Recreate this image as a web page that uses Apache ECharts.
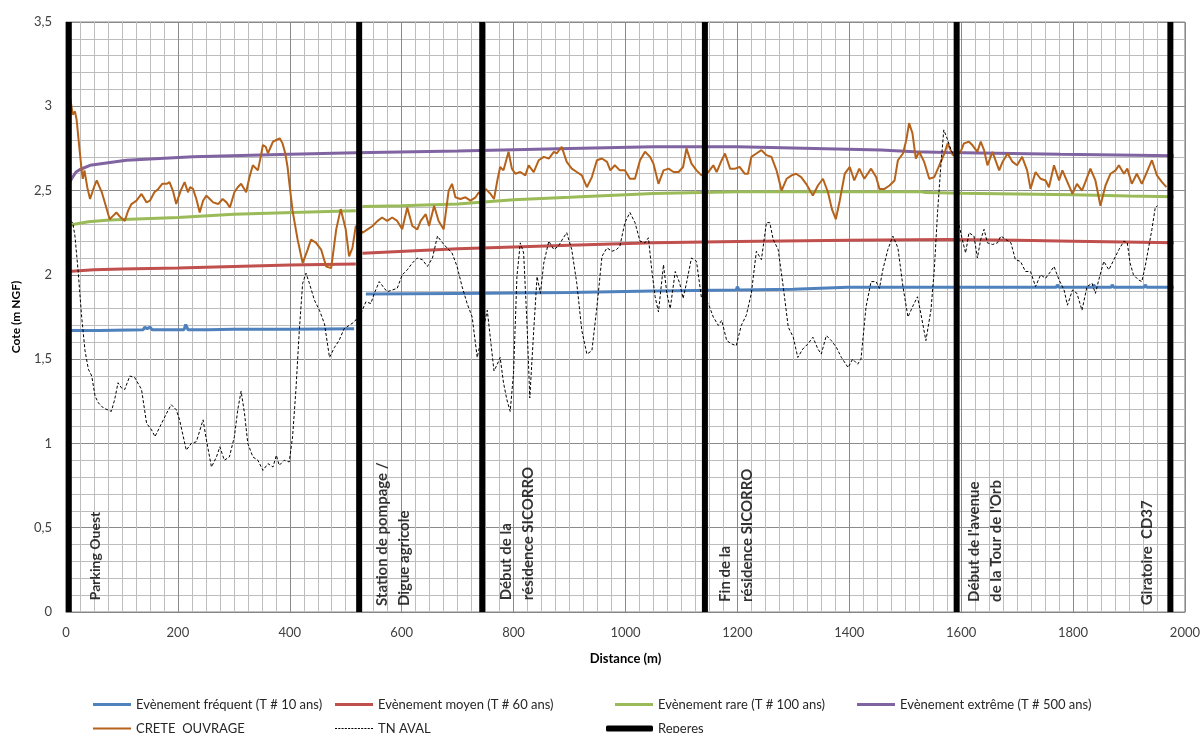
<!DOCTYPE html>
<html>
<head>
<meta charset="utf-8">
<script src="https://cdn.jsdelivr.net/npm/echarts@6/dist/echarts.min.js"></script>
<style>
html,body{margin:0;padding:0;background:#fff;}
#chart{width:1203px;height:733px;}
</style>
</head>
<body>
<div id="chart"></div>
<script>
// ---------- DATA ----------
var xTicks = [0, 200, 400, 600, 800, 1000, 1200, 1400, 1600, 1800, 2000];
var yTicks = [0, 0.5, 1, 1.5, 2, 2.5, 3, 3.5];

var seriesNames = [
  'Evènement fréquent (T # 10 ans)',
  'Evènement moyen (T # 60 ans)',
  'Evènement rare (T # 100 ans)',
  'Evènement extrême (T # 500 ans)',
  'CRETE  OUVRAGE',
  'TN AVAL',
  'Reperes'
];

// [distance (m), cote (m NGF)] ; null breaks the line at the dike
var frequent = [[5,1.67],[60,1.67],[138,1.675],[141,1.69],[145,1.68],[150,1.69],[154,1.675],[211,1.675],[214,1.705],[218,1.675],[254,1.675],[300,1.678],[400,1.678],[515,1.68],[520,null],
  [536,1.886],[700,1.89],[900,1.895],[1050,1.904],[1198,1.91],[1200,1.93],[1203,1.91],[1300,1.915],[1397,1.926],[1600,1.926],[1770,1.926],[1772,1.94],[1775,1.926],[1835,1.926],[1837,1.94],[1840,1.926],[1868,1.926],[1870,1.94],[1873,1.926],[1927,1.926],[1929,1.94],[1932,1.926],[1980,1.926]];
var moyen = [[5,2.02],[10,2.022],[50,2.03],[100,2.035],[200,2.04],[300,2.05],[400,2.058],[518,2.064],[524,null],
  [530,2.128],[700,2.155],[900,2.175],[1050,2.19],[1200,2.198],[1400,2.205],[1576,2.21],[1700,2.205],[1800,2.2],[1980,2.19]];
var rare = [[5,2.29],[15,2.30],[40,2.315],[78,2.325],[200,2.34],[300,2.36],[420,2.372],[518,2.38],[524,null],
  [530,2.405],[600,2.41],[700,2.42],[800,2.445],[900,2.46],[1050,2.483],[1200,2.493],[1400,2.493],[1530,2.493],[1536,2.488],[1600,2.484],[1700,2.48],[1800,2.475],[1900,2.468],[1980,2.463]];
var extreme = [[5,2.54],[10,2.57],[18,2.61],[25,2.625],[43,2.65],[108,2.68],[227,2.70],[400,2.715],[518,2.725],[700,2.735],[900,2.75],[1050,2.76],[1200,2.76],[1338,2.75],[1457,2.74],[1516,2.73],[1576,2.726],[1778,2.716],[1980,2.707]];
var crete = [[8,3.04],[12,2.95],[16,2.97],[19,2.92],[24,2.75],[28,2.62],[30,2.57],[33,2.62],[38,2.52],[43,2.45],[50,2.52],[55,2.56],[60,2.52],[64,2.49],[72,2.40],[78,2.33],[84,2.35],[90,2.37],[98,2.34],[105,2.32],[111,2.38],[117,2.42],[126,2.44],[135,2.48],[144,2.43],[150,2.44],[158,2.49],[165,2.51],[172,2.54],[180,2.54],[185,2.55],[191,2.50],[197,2.42],[205,2.50],[212,2.55],[218,2.49],[222,2.52],[227,2.51],[233,2.45],[239,2.37],[245,2.44],[251,2.47],[257,2.45],[263,2.43],[272,2.42],[280,2.45],[287,2.43],[293,2.40],[301,2.49],[307,2.52],[313,2.54],[322,2.49],[328,2.58],[334,2.65],[343,2.62],[348,2.70],[352,2.77],[357,2.76],[361,2.72],[366,2.76],[370,2.79],[376,2.80],[382,2.81],[387,2.78],[392,2.72],[396,2.64],[399,2.55],[405,2.38],[414,2.21],[423,2.07],[432,2.15],[438,2.21],[447,2.19],[456,2.15],[465,2.05],[474,2.04],[483,2.27],[491,2.39],[500,2.27],[506,2.11],[512,2.16],[518,2.29],[524,2.27],[530,2.25],[539,2.27],[548,2.29],[557,2.32],[565,2.34],[574,2.32],[583,2.34],[592,2.32],[601,2.27],[610,2.40],[619,2.29],[628,2.27],[634,2.32],[643,2.36],[649,2.29],[658,2.41],[666,2.32],[675,2.27],[684,2.50],[690,2.54],[696,2.46],[705,2.45],[714,2.46],[723,2.44],[732,2.46],[738,2.49],[744,2.47],[750,2.51],[759,2.48],[765,2.45],[771,2.56],[776,2.64],[782,2.62],[791,2.73],[797,2.63],[803,2.60],[812,2.61],[821,2.59],[827,2.65],[836,2.61],[845,2.68],[854,2.70],[863,2.69],[872,2.73],[877,2.72],[886,2.76],[895,2.67],[904,2.63],[913,2.61],[922,2.59],[931,2.52],[940,2.58],[949,2.68],[958,2.69],[967,2.67],[973,2.62],[981,2.65],[990,2.62],[999,2.62],[1008,2.57],[1017,2.57],[1026,2.68],[1035,2.73],[1044,2.70],[1050,2.66],[1059,2.54],[1068,2.62],[1077,2.63],[1086,2.61],[1095,2.61],[1103,2.64],[1109,2.75],[1118,2.66],[1127,2.62],[1136,2.59],[1142,2.60],[1148,2.61],[1157,2.65],[1163,2.61],[1172,2.68],[1178,2.72],[1187,2.63],[1196,2.63],[1204,2.64],[1213,2.60],[1219,2.60],[1225,2.70],[1234,2.72],[1243,2.74],[1252,2.71],[1261,2.70],[1270,2.62],[1279,2.50],[1288,2.57],[1297,2.59],[1305,2.60],[1314,2.58],[1323,2.54],[1335,2.47],[1344,2.53],[1353,2.57],[1362,2.49],[1369,2.39],[1376,2.33],[1383,2.44],[1392,2.60],[1401,2.64],[1409,2.56],[1418,2.63],[1427,2.57],[1439,2.63],[1448,2.58],[1454,2.51],[1463,2.51],[1472,2.53],[1481,2.56],[1487,2.68],[1496,2.72],[1502,2.80],[1507,2.90],[1513,2.84],[1519,2.69],[1525,2.73],[1534,2.67],[1543,2.57],[1552,2.58],[1561,2.65],[1570,2.72],[1576,2.78],[1585,2.71],[1592,2.72],[1599,2.73],[1605,2.78],[1614,2.79],[1620,2.77],[1629,2.73],[1635,2.79],[1641,2.74],[1647,2.65],[1656,2.73],[1668,2.62],[1674,2.67],[1683,2.72],[1692,2.67],[1700,2.65],[1709,2.70],[1718,2.62],[1724,2.51],[1733,2.61],[1742,2.57],[1751,2.56],[1757,2.52],[1766,2.65],[1775,2.56],[1781,2.62],[1790,2.55],[1799,2.48],[1807,2.54],[1816,2.50],[1822,2.55],[1831,2.63],[1840,2.56],[1849,2.41],[1858,2.53],[1867,2.60],[1876,2.62],[1882,2.65],[1891,2.60],[1897,2.63],[1905,2.54],[1914,2.60],[1923,2.54],[1932,2.61],[1941,2.68],[1950,2.59],[1959,2.55],[1967,2.52]];
var tnAval = [[8,2.32],[12,2.31],[16,2.23],[22,2.01],[28,1.75],[34,1.55],[40,1.44],[46,1.40],[52,1.28],[58,1.24],[67,1.21],[81,1.19],[87,1.26],[93,1.36],[99,1.33],[105,1.32],[114,1.40],[123,1.39],[135,1.32],[144,1.12],[153,1.08],[159,1.04],[168,1.10],[180,1.18],[188,1.23],[197,1.20],[203,1.14],[215,0.96],[224,1.00],[233,1.01],[245,1.14],[251,1.02],[260,0.86],[269,0.92],[275,0.98],[283,0.90],[292,0.92],[301,1.04],[307,1.20],[313,1.31],[319,1.18],[325,1.00],[334,0.92],[343,0.90],[352,0.84],[361,0.88],[370,0.86],[376,0.93],[381,0.87],[390,0.90],[399,0.89],[405,1.04],[411,1.32],[417,1.67],[423,1.95],[429,2.01],[435,1.95],[444,1.85],[453,1.79],[462,1.71],[471,1.51],[480,1.57],[488,1.61],[497,1.68],[506,1.70],[515,1.72],[527,1.77],[536,1.84],[545,1.83],[551,1.89],[560,1.96],[569,1.92],[574,1.90],[583,1.91],[592,1.92],[601,2.00],[610,2.03],[619,2.07],[628,2.10],[637,2.09],[646,2.05],[655,2.10],[664,2.23],[673,2.19],[681,2.16],[690,2.13],[699,2.05],[708,1.93],[717,1.83],[726,1.75],[735,1.51],[753,1.79],[759,1.61],[765,1.43],[771,1.47],[776,1.51],[782,1.36],[788,1.26],[794,1.19],[800,1.42],[806,1.99],[812,2.19],[818,2.13],[824,1.71],[829,1.27],[836,1.67],[842,1.99],[848,1.89],[854,2.07],[863,2.20],[872,2.15],[880,2.17],[889,2.22],[895,2.25],[904,2.15],[913,1.95],[922,1.67],[931,1.53],[940,1.55],[949,1.81],[958,2.11],[967,2.16],[976,2.14],[984,2.15],[990,2.17],[999,2.31],[1008,2.37],[1017,2.31],[1026,2.20],[1035,2.19],[1041,2.22],[1047,2.03],[1053,1.87],[1059,1.78],[1068,2.06],[1074,1.89],[1080,1.80],[1089,2.02],[1097,1.95],[1103,1.86],[1109,1.95],[1118,2.10],[1127,2.08],[1136,1.86],[1148,1.83],[1157,1.75],[1166,1.70],[1172,1.73],[1181,1.61],[1190,1.59],[1198,1.58],[1207,1.70],[1216,1.76],[1225,1.89],[1234,2.14],[1243,2.09],[1252,2.31],[1258,2.31],[1264,2.21],[1273,2.15],[1282,1.93],[1291,1.69],[1300,1.63],[1308,1.51],[1317,1.56],[1326,1.59],[1335,1.63],[1344,1.56],[1350,1.53],[1359,1.64],[1368,1.61],[1377,1.57],[1386,1.51],[1398,1.45],[1406,1.50],[1415,1.47],[1421,1.50],[1430,1.81],[1439,1.96],[1448,1.96],[1454,1.92],[1460,2.03],[1469,2.15],[1478,2.23],[1487,2.16],[1496,1.93],[1505,1.75],[1513,1.81],[1522,1.87],[1528,1.77],[1537,1.61],[1546,1.79],[1552,2.03],[1558,2.38],[1564,2.66],[1569,2.86],[1576,2.80],[1582,2.74],[1588,2.70],[1596,2.30],[1602,2.21],[1608,2.13],[1614,2.25],[1623,2.23],[1629,2.10],[1635,2.21],[1641,2.27],[1647,2.19],[1656,2.18],[1665,2.19],[1671,2.23],[1680,2.21],[1689,2.19],[1697,2.09],[1706,2.08],[1715,2.02],[1724,2.02],[1733,1.93],[1742,2.00],[1751,1.98],[1760,2.02],[1766,2.05],[1775,1.97],[1784,1.91],[1790,1.82],[1799,1.91],[1807,1.89],[1816,1.79],[1825,1.93],[1834,1.95],[1840,1.89],[1846,1.97],[1855,2.08],[1864,2.03],[1873,2.09],[1882,2.15],[1891,2.20],[1897,2.19],[1902,2.07],[1908,2.00],[1917,1.97],[1923,1.96],[1929,2.05],[1935,2.16],[1941,2.27],[1947,2.40],[1951,2.41]];

var reperesX = [5, 524, 744, 1142, 1592, 1974];
var reperesY = [0, 3.5];

// Annotation labels (distance, cote at label start, text)
var annotations = [
  {x: 52,   y: 0.07, text: 'Parking Ouest', size: 14},
  {x: 585,  y: 0.035, text: 'Station de pompage /\nDigue agricole', size: 15},
  {x: 807,  y: 0.07, text: 'Début de la\nrésidence SICORRO', size: 15},
  {x: 1197, y: 0.06, text: 'Fin de la\nrésidence SICORRO', size: 15},
  {x: 1643, y: 0.06, text: "Début de l'avenue\nde la Tour de l'Orb", size: 15},
  {x: 1932, y: 0.04, text: 'Giratoire  CD37', size: 15}
];

// ---------- CHART ----------
var FONT = 'Lato, "Liberation Sans", sans-serif';
var colors = ['#4F81BD', '#C0504D', '#9BBB59', '#8064A2', '#B5621B', '#000000', '#000000'];

var reperesData = [];
reperesX.forEach(function (x, i) {
  if (i > 0) reperesData.push([x, null]);
  reperesData.push([x, reperesY[0]]);
  reperesData.push([x, reperesY[1]]);
});

function lineSeries(name, data, color, width, extra) {
  var s = {
    name: name, type: 'line', data: data, symbol: 'none', showSymbol: false,
    connectNulls: false, animation: false, silent: true,
    lineStyle: {color: color, width: width},
    itemStyle: {color: color}
  };
  if (extra) for (var k in extra) s[k] = extra[k];
  return s;
}

// dashed legend icon path for TN AVAL
var dashPath = 'path://';
for (var dx = 0; dx < 38; dx += 3.2) {
  dashPath += 'M' + dx.toFixed(1) + ',0h2v1h-2z';
}

function mkLegend(left, top, name, icon, w, h, color) {
  return {
    left: left, top: top, orient: 'horizontal',
    itemWidth: w, itemHeight: h, symbolKeepAspect: false,
    selectedMode: false,
    data: [{name: name, icon: icon, itemStyle: {color: color}}],
    textStyle: {fontFamily: FONT, fontSize: 13, color: '#262626'}
  };
}

var chart = echarts.init(document.getElementById('chart'), null, {renderer: 'canvas'});
var option = {
  backgroundColor: '#ffffff',
  animation: false,
  grid: {left: 66, right: 15, top: 22, bottom: 121, show: true, borderColor: '#868686', borderWidth: 1, backgroundColor: 'transparent'},
  legend: [
    mkLegend(88, 693, seriesNames[0], 'rect', 38, 3, colors[0]),
    mkLegend(330, 693, seriesNames[1], 'rect', 38, 3, colors[1]),
    mkLegend(610, 693, seriesNames[2], 'rect', 38, 3, colors[2]),
    mkLegend(852, 693, seriesNames[3], 'rect', 38, 3, colors[3]),
    mkLegend(88, 717, seriesNames[4], 'rect', 38, 2, colors[4]),
    mkLegend(330, 717, seriesNames[5], dashPath, 38, 1, colors[5]),
    mkLegend(601, 717, seriesNames[6], 'roundRect', 47, 6, colors[6])
  ],
  xAxis: {
    type: 'value', min: xTicks[0], max: xTicks[xTicks.length - 1], interval: 200,
    name: 'Distance (m)', nameLocation: 'middle', nameGap: 40,
    nameTextStyle: {fontFamily: FONT, fontSize: 13, fontWeight: 'bold', color: '#000'},
    axisLine: {show: true, lineStyle: {color: '#868686', width: 1}},
    axisTick: {show: false},
    axisLabel: {fontFamily: FONT, fontSize: 13, color: '#404040', margin: 14,
      formatter: function (v) { return String(v); }},
    splitLine: {show: true, lineStyle: {color: '#8a8a8a', width: 1}},
    minorTick: {show: false, splitNumber: 8},
    minorSplitLine: {show: true, lineStyle: {color: '#bdbdbd', width: 1}}
  },
  yAxis: {
    type: 'value', min: yTicks[0], max: yTicks[yTicks.length - 1], interval: 0.5,
    name: 'Cote (m NGF)', nameLocation: 'middle', nameGap: 44, nameRotate: 90,
    nameTextStyle: {fontFamily: FONT, fontSize: 12, fontWeight: 'bold', color: '#000'},
    axisLine: {show: true, lineStyle: {color: '#868686', width: 1}},
    axisTick: {show: false},
    axisLabel: {fontFamily: FONT, fontSize: 13, color: '#404040', margin: 14,
      formatter: function (v) { return String(v).replace('.', ','); }},
    splitLine: {show: true, lineStyle: {color: '#8a8a8a', width: 1}},
    minorTick: {show: false, splitNumber: 5},
    minorSplitLine: {show: true, lineStyle: {color: '#bdbdbd', width: 1}}
  },
  series: [
    lineSeries(seriesNames[0], frequent, colors[0], 3, {z: 3}),
    lineSeries(seriesNames[1], moyen, colors[1], 3, {z: 3}),
    lineSeries(seriesNames[2], rare, colors[2], 3, {z: 3}),
    lineSeries(seriesNames[3], extreme, colors[3], 3, {z: 3}),
    lineSeries(seriesNames[4], crete, colors[4], 2, {z: 4}),
    lineSeries(seriesNames[5], tnAval, colors[5], 1, {z: 4, lineStyle: {color: '#000', width: 1, type: [3, 2]}}),
    lineSeries(seriesNames[6], reperesData, colors[6], 6, {z: 5}),
    {
      type: 'scatter', silent: true, animation: false, z: 6,
      symbolSize: 0, itemStyle: {color: 'rgba(0,0,0,0)'},
      data: annotations.map(function (a) {
        return {
          value: [a.x, a.y],
          label: {
            show: true, formatter: a.text, rotate: 90, position: 'inside',
            align: 'left', verticalAlign: 'middle',
            fontFamily: FONT, fontSize: a.size, fontWeight: 'bold',
            lineHeight: 22, color: '#000'
          }
        };
      })
    }
  ]
};
chart.setOption(option);
</script>
</body>
</html>
